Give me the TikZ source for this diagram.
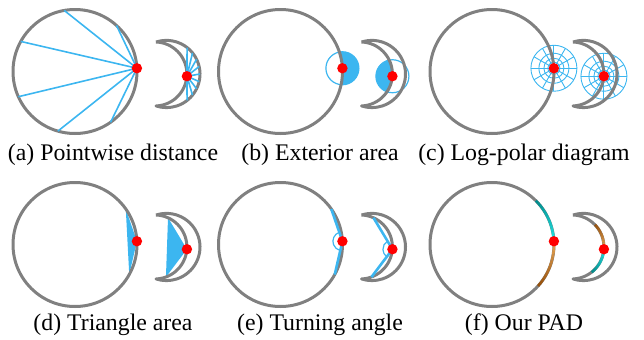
\documentclass[tikz,border=0pt]{standalone}
\usepackage{fontspec}
\setmainfont{Liberation Serif}
\usetikzlibrary{calc}
\definecolor{shapegray}{RGB}{128,128,128}
\definecolor{featblue}{RGB}{60,182,240}
\definecolor{dotred}{RGB}{255,0,0}
\definecolor{padteal}{RGB}{0,140,140}
\definecolor{padcyan}{RGB}{30,230,230}
\definecolor{padorange}{RGB}{232,165,85}
\definecolor{padbrown}{RGB}{150,80,10}
\tikzset{
    % Shapes
    outline/.style={draw=shapegray, line width=1.5pt, line join=round},
    dot/.style={circle, fill=dotred, inner sep=0pt, minimum size=5.2pt},
    % Features
    ray/.style={draw=featblue, line width=0.8pt},
    turn/.style={draw=featblue, line width=1.3pt},
    thinblue/.style={draw=featblue, line width=0.6pt},
    polar/.style={draw=featblue, line width=0.45pt},
    padline/.style={line width=1.3pt},
    % Labels
    caption/.style={font=\fontsize{11.9}{14}\selectfont, inner sep=0pt}
}
% named points of one panel (origin = centre of the circle)
\newcommand{\panelcoords}[1]{%
    \coordinate (#1-c) at (0,0);
    \coordinate (#1-bd) at (3:62);
    \coordinate (#1-ic) at (80,-2.5);
    \coordinate (#1-oc) at (91.4,-2.5);
    \coordinate (#1-sd) at ($(#1-ic)+(-4:32)$);
}
\newcommand{\panelshapes}{%
    \draw[outline] (0,0) circle (62);
    \draw[outline] (91.4,-2.5) ++(108:33.6) arc[start angle=108, end angle=-108, radius=33.6]
        arc[start angle=-88, end angle=88, radius=32];
}
\newcommand{\paneldots}[1]{%
    \node[dot] (#1-bdot) at (#1-bd) {};
    \node[dot] (#1-sdot) at (#1-sd) {};
}

\begin{document}
\begin{tikzpicture}[x=0.5pt, y=0.5pt]
\useasboundingbox (0,0) rectangle (644,339);

% (a) pointwise distance
\begin{scope}[shift={(75,267.5)}]
\panelcoords{a}
\panelshapes
\foreach \a in {100,48,151,204,254,305} {
    \coordinate (a-p\a) at (\a:62);
    \draw[ray] (a-bd) -- (a-p\a);
}
\foreach \a in {52,39,...,-52} {
    \coordinate (a-q\a) at ($(a-oc)+(\a:33.6)$);
    \draw[ray] (a-sd) -- (a-q\a);
}
\paneldots{a}
\end{scope}

% (b) exterior area
\begin{scope}[shift={(280.5,267.5)}]
\panelcoords{b}
\fill[featblue] (b-bd) circle (16.5);
\begin{scope}
    \clip (b-bd) circle (16.5);
    \fill[white] (b-c) circle (62);
\end{scope}
\draw[thinblue] (b-bd) circle (16.5);
\begin{scope}
    \clip (b-ic) circle (32);
    \fill[featblue] (b-sd) circle (16.5);
\end{scope}
\draw[thinblue] (b-sd) circle (16.5);
\panelshapes
\paneldots{b}
\end{scope}

% (c) log-polar diagram
\begin{scope}[shift={(492,267.5)}]
\panelcoords{c}
\foreach \p in {c-bd, c-sd} {
    \foreach \r in {3,6,10,15,23}
        \draw[polar] (\p) circle (\r);
    \foreach \a in {0,30,...,330}
        \draw[polar] (\p) -- ++(\a:23);
}
\panelshapes
\paneldots{c}
\end{scope}

% (d) triangle area
\begin{scope}[shift={(75,94.5)}]
\panelcoords{d}
\coordinate (d-t1) at (35:62);
\coordinate (d-t2) at (-29:62);
\coordinate (d-u1) at ($(d-ic)+(66:32)$);
\coordinate (d-u2) at ($(d-ic)+(-70:32)$);
\fill[featblue] (d-bd) -- (d-t1) -- (d-t2) -- cycle;
\fill[featblue] (d-sd) -- (d-u1) -- (d-u2) -- cycle;
\panelshapes
\paneldots{d}
\end{scope}

% (e) turning angle
\begin{scope}[shift={(280.5,94.5)}]
\panelcoords{e}
\coordinate (e-t1) at (35:62);
\coordinate (e-t2) at (-29:62);
\coordinate (e-u1) at ($(e-ic)+(66:32)$);
\coordinate (e-u2) at ($(e-ic)+(-70:32)$);
\panelshapes
\draw[turn] (e-t1) -- (e-bd) -- (e-t2);
\draw[thinblue] (e-bd) ++(111:9.5) arc[start angle=111, end angle=254, radius=9.5];
\draw[turn] (e-u1) -- (e-sd) -- (e-u2);
\draw[thinblue] (e-sd) ++(122:9.5) arc[start angle=122, end angle=232, radius=9.5];
\paneldots{e}
\end{scope}

% (f) our PAD
\begin{scope}[shift={(492,94.5)}]
\panelcoords{f}
\panelshapes
\foreach \i in {0,...,13} {
    \pgfmathsetmacro\a{45-3*\i}
    \pgfmathsetmacro\t{100*\i/13}
    \draw[padline, draw=padcyan!\t!padteal] (\a:62) arc[start angle=\a, end angle=\a-3, radius=62];
}
\foreach \i in {0,...,14} {
    \pgfmathsetmacro\a{3-3*\i}
    \pgfmathsetmacro\t{100*\i/14}
    \draw[padline, draw=padbrown!\t!padorange] (\a:62) arc[start angle=\a, end angle=\a-3, radius=62];
}
\foreach \i in {0,...,15} {
    \pgfmathsetmacro\a{44-3*\i}
    \pgfmathsetmacro\t{100*\i/15}
    \draw[padline, draw=padorange!\t!padbrown] ($(f-ic)+(\a:32)$) arc[start angle=\a, end angle=\a-3, radius=32];
}
\foreach \i in {0,...,15} {
    \pgfmathsetmacro\a{-4-3*\i}
    \pgfmathsetmacro\t{100*\i/15}
    \draw[padline, draw=padteal!\t!padcyan] ($(f-ic)+(\a:32)$) arc[start angle=\a, end angle=\a-3, radius=32];
}
\paneldots{f}
\end{scope}

% captions
\node[caption] (cap-a) at (113,184) {(a) Pointwise distance};
\node[caption] (cap-b) at (320,184) {(b) Exterior area};
\node[caption] (cap-c) at (524,184) {(c) Log-polar diagram};
\node[caption] (cap-d) at (113,14) {(d) Triangle area};
\node[caption] (cap-e) at (320,14) {(e) Turning angle};
\node[caption] (cap-f) at (524,14) {(f) Our PAD};

\end{tikzpicture}
\end{document}
